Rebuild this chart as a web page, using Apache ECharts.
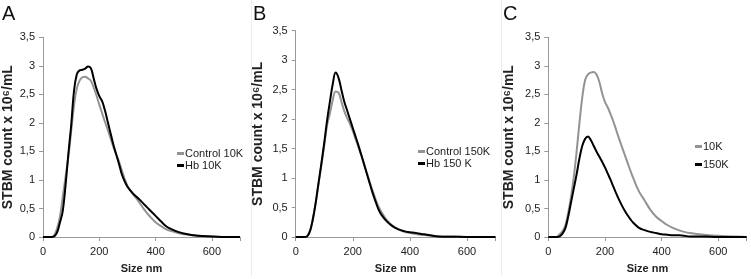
<!DOCTYPE html>
<html>
<head>
<meta charset="utf-8">
<script src="https://cdn.jsdelivr.net/npm/echarts@6/dist/echarts.min.js"></script>
<style>
  html, body { margin: 0; padding: 0; background: #fff; }
  #chart { width: 751px; height: 279px; }
</style>
</head>
<body>
<div id="chart"></div>
<script>
// particle size bins (nm)
var sizes = [0, 20, 30, 40, 50, 60, 70, 80, 90, 100, 110, 120, 130, 140, 150, 160, 170, 180, 190, 200,
             210, 220, 230, 240, 250, 260, 270, 280, 290, 300, 320, 340, 360, 380, 400, 420, 440, 460, 480, 500,
             550, 600, 650, 700];

// panel A
var control10K = [0, 0, 0, 0.03, 0.15, 0.35, 0.7, 1.05, 1.4, 1.85, 2.3, 2.6, 2.74, 2.8, 2.81, 2.78, 2.74, 2.62, 2.48, 2.32,
                  2.17, 2.02, 1.88, 1.73, 1.58, 1.45, 1.32, 1.17, 1.02, 0.9, 0.75, 0.62, 0.48, 0.36, 0.26, 0.19, 0.13, 0.1, 0.07, 0.05,
                  0.02, 0.01, 0, 0];
var hb10K = [0, 0, 0, 0.01, 0.08, 0.25, 0.45, 0.9, 1.45, 1.95, 2.55, 2.85, 2.92, 2.93, 2.95, 2.99, 2.96, 2.78, 2.6, 2.47,
             2.38, 2.22, 2.02, 1.82, 1.62, 1.45, 1.28, 1.1, 0.98, 0.88, 0.76, 0.67, 0.57, 0.47, 0.37, 0.27, 0.18, 0.13, 0.09, 0.06,
             0.02, 0.01, 0, 0];

// panel B
var control150K = [0, 0, 0, 0.02, 0.1, 0.3, 0.58, 0.9, 1.22, 1.55, 1.9, 2.1, 2.33, 2.47, 2.45, 2.3, 2.14, 2.02, 1.92, 1.8,
                   1.66, 1.52, 1.38, 1.22, 1.08, 0.92, 0.78, 0.64, 0.52, 0.43, 0.28, 0.19, 0.13, 0.09, 0.07, 0.05, 0.04, 0.03, 0.02, 0.01,
                   0.01, 0, 0, 0];
var hb150K = [0, 0, 0, 0.01, 0.1, 0.3, 0.58, 0.92, 1.25, 1.6, 1.98, 2.3, 2.6, 2.79, 2.7, 2.5, 2.3, 2.15, 2.0, 1.85,
              1.7, 1.55, 1.39, 1.23, 1.06, 0.9, 0.74, 0.6, 0.47, 0.38, 0.26, 0.18, 0.13, 0.1, 0.08, 0.07, 0.05, 0.04, 0.02, 0.01,
              0.005, 0, 0, 0];

// panel C
var all10K = [0, 0, 0, 0.05, 0.1, 0.2, 0.42, 0.7, 1.05, 1.5, 2.0, 2.45, 2.75, 2.85, 2.88, 2.89, 2.85, 2.72, 2.52, 2.37,
              2.27, 2.15, 2.02, 1.87, 1.72, 1.58, 1.44, 1.3, 1.16, 1.03, 0.8, 0.64, 0.48, 0.36, 0.28, 0.21, 0.16, 0.12, 0.09, 0.07,
              0.04, 0.02, 0.01, 0];
var all150K = [0, 0, 0, 0.01, 0.06, 0.15, 0.35, 0.6, 0.85, 1.1, 1.38, 1.6, 1.72, 1.76, 1.7, 1.6, 1.5, 1.41, 1.32, 1.22,
               1.11, 1.0, 0.88, 0.76, 0.65, 0.55, 0.46, 0.38, 0.31, 0.25, 0.16, 0.12, 0.09, 0.07, 0.05, 0.04, 0.03, 0.03, 0.02, 0.01,
               0.01, 0, 0, 0];

var yTicks = [0, 0.5, 1, 1.5, 2, 2.5, 3, 3.5];
var xTicks = [0, 200, 400, 600];

var GREY = '#939393', BLACK = '#000';
var FONT = 'Liberation Sans';

function pairs(vals) {
    return sizes.map(function (s, i) { return [s, vals[i]]; });
}

function xAxisOf(i) {
    return {
        gridIndex: i, type: 'value', min: 0, max: 700, interval: 200,
        name: 'Size nm', nameLocation: 'middle', nameGap: 26,
        nameTextStyle: { fontFamily: FONT, fontWeight: 'bold', fontSize: 11, color: '#222' },
        axisLine: { lineStyle: { color: '#999', width: 1 } },
        axisTick: { show: true, length: 4, lineStyle: { color: '#999' } },
        axisLabel: {
            fontFamily: FONT, fontSize: 11, color: '#222', margin: 9,
            formatter: function (v) { return xTicks.indexOf(v) >= 0 ? String(v) : ''; }
        },
        splitLine: { show: false }
    };
}

function yAxisOf(i, gap) {
    return {
        gridIndex: i, type: 'value', min: 0, max: 3.5, interval: 0.5,
        name: 'STBM count x 10\u2076/mL', nameLocation: 'middle', nameGap: gap,
        nameTextStyle: { fontFamily: FONT, fontWeight: 'bold', fontSize: 14, color: '#222' },
        axisLine: { show: true, lineStyle: { color: '#999', width: 1 } },
        axisTick: { show: true, length: 4, lineStyle: { color: '#999' } },
        axisLabel: {
            fontFamily: FONT, fontSize: 11, color: '#222', margin: 8,
            formatter: function (v) { return yTicks.indexOf(v) >= 0 ? String(v).replace('.', ',') : ''; }
        },
        splitLine: { show: false }
    };
}

function lineSeries(name, i, vals, color) {
    return {
        name: name, type: 'line', xAxisIndex: i, yAxisIndex: i,
        data: pairs(vals), smooth: 0.4, showSymbol: false, silent: true,
        lineStyle: { color: color, width: 2 }, itemStyle: { color: color }
    };
}

function legendOf(names, left, top, gap) {
    return {
        orient: 'vertical', left: left, top: top, itemGap: gap,
        itemWidth: 7, itemHeight: 3, icon: 'rect',
        textStyle: { fontFamily: FONT, fontSize: 11, color: '#222', lineHeight: 11, padding: [0, 0, 0, -4] },
        data: names
    };
}

function letter(txt, x) {
    return { type: 'text', left: x, top: 4, style: { text: txt, font: '20px ' + FONT, fill: '#111' } };
}

var myChart = echarts.init(document.getElementById('chart'));
var option = {
    animation: false,
    grid: [
        { left: 40, top: 37.3, width: 200, height: 205.4 },
        { left: 295.7, top: 30.7, width: 199.8, height: 211.7 },
        { left: 548.3, top: 37.3, width: 198.3, height: 205 }
    ],
    xAxis: [xAxisOf(0), xAxisOf(1), xAxisOf(2)],
    yAxis: [yAxisOf(0, 28), yAxisOf(1, 31), yAxisOf(2, 32)],
    legend: [
        legendOf(['Control 10K', 'Hb 10K'], 172, 143, 1),
        legendOf(['Control 150K', 'Hb 150 K'], 413, 141, 1),
        legendOf(['10K', '150K'], 690, 136, 7)
    ],
    series: [
        lineSeries('Control 10K', 0, control10K, GREY),
        lineSeries('Hb 10K', 0, hb10K, BLACK),
        lineSeries('Control 150K', 1, control150K, GREY),
        lineSeries('Hb 150 K', 1, hb150K, BLACK),
        lineSeries('10K', 2, all10K, GREY),
        lineSeries('150K', 2, all150K, BLACK)
    ],
    graphic: [
        letter('A', 2), letter('B', 253), letter('C', 503),
        { type: 'line', shape: { x1: 251.5, y1: 0, x2: 251.5, y2: 276 }, style: { stroke: '#ececec', lineWidth: 1 } },
        { type: 'line', shape: { x1: 501.5, y1: 0, x2: 501.5, y2: 276 }, style: { stroke: '#ececec', lineWidth: 1 } }
    ]
};
myChart.setOption(option);
window.onresize = myChart.resize;
</script>
</body>
</html>
